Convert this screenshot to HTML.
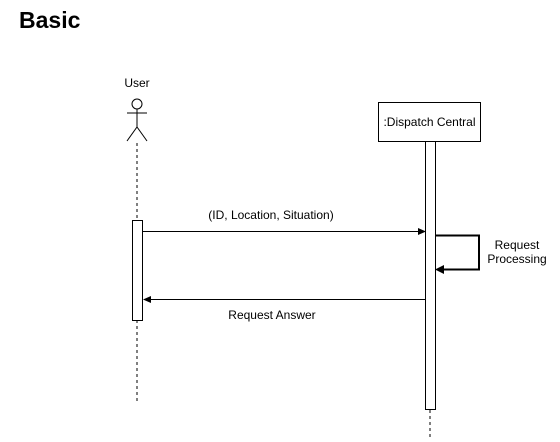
<!DOCTYPE html>
<html><head><style>
html,body{margin:0;padding:0;background:#fff;width:560px;height:442px;overflow:hidden}
svg{display:block}
text{font-family:"Liberation Sans",Arial,sans-serif;fill:#000}
</style></head><body>
<svg width="560" height="442" viewBox="0 0 560 442" xmlns="http://www.w3.org/2000/svg">
<text x="19" y="28" font-size="23" font-weight="bold">Basic</text>
<text x="137" y="87" font-size="12" text-anchor="middle">User</text>
<g stroke="#000" stroke-width="1" fill="none">
<circle cx="137" cy="104" r="5" fill="#fff"/>
<line x1="137" y1="109" x2="137" y2="127"/>
<line x1="127" y1="113" x2="147" y2="113"/>
<line x1="137" y1="127" x2="127" y2="141"/>
<line x1="137" y1="127" x2="147" y2="141"/>
<line x1="137" y1="143" x2="137" y2="220" stroke-dasharray="3,3"/>
<line x1="137" y1="320" x2="137" y2="401" stroke-dasharray="3,3"/>
<line x1="430" y1="410" x2="430" y2="440" stroke-dasharray="3,3"/>
</g>
<rect x="132.5" y="220.5" width="10" height="100" fill="#fff" stroke="#000"/>
<rect x="378.5" y="102.5" width="102" height="39" fill="#fff" stroke="#000"/>
<text x="429.5" y="126" font-size="12" text-anchor="middle">:Dispatch Central</text>
<rect x="425.5" y="141.5" width="10" height="268" fill="#fff" stroke="#000"/>
<line x1="143" y1="231.5" x2="420" y2="231.5" stroke="#000"/>
<polygon points="426,231.5 418,228 418,235" fill="#000"/>
<text x="271" y="219" font-size="12" text-anchor="middle">(ID, Location, Situation)</text>
<polyline points="436,235.5 479,235.5 479,269.5 442,269.5" fill="none" stroke="#000" stroke-width="2"/>
<polygon points="435,269.5 444,265 444,274" fill="#000"/>
<text x="517" y="249" font-size="12" text-anchor="middle">Request</text>
<text x="517" y="263" font-size="12" text-anchor="middle">Processing</text>
<line x1="150" y1="299.5" x2="425" y2="299.5" stroke="#000"/>
<polygon points="143,299.5 151,296 151,303" fill="#000"/>
<text x="272" y="319" font-size="12" text-anchor="middle">Request Answer</text>
</svg>
</body></html>
